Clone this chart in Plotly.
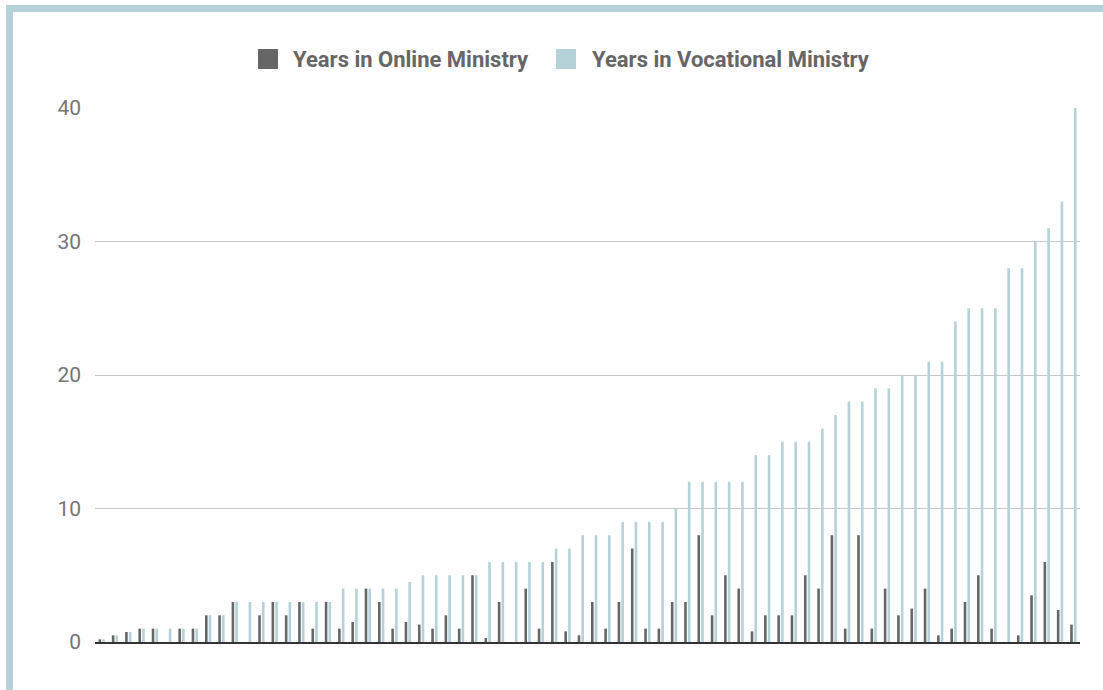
import plotly.graph_objects as go

# ---- data ----
respondents = [f"R{i}" for i in range(1, 75)]
online_years = [0.2, 0.5, 0.75, 1, 1, 0, 1, 1, 2, 2,
                3, 0, 2, 3, 2, 3, 1, 3, 1, 1.5,
                4, 3, 1, 1.5, 1.3, 1, 2, 1, 5, 0.3,
                3, 0, 4, 1, 6, 0.8, 0.5, 3, 1, 3,
                7, 1, 1, 3, 3, 8, 2, 5, 4, 0.8,
                2, 2, 2, 5, 4, 8, 1, 8, 1, 4,
                2, 2.5, 4, 0.5, 1, 3, 5, 1, 0, 0.5,
                3.5, 6, 2.4, 1.3]
vocational_years = [0.2, 0.5, 0.75, 1, 1, 1, 1, 1, 2, 2,
                    3, 3, 3, 3, 3, 3, 3, 3, 4, 4,
                    4, 4, 4, 4.5, 5, 5, 5, 5, 5, 6,
                    6, 6, 6, 6, 7, 7, 8, 8, 8, 9,
                    9, 9, 9, 10, 12, 12, 12, 12, 12, 14,
                    14, 15, 15, 15, 16, 17, 18, 18, 19, 19,
                    20, 20, 21, 21, 24, 25, 25, 25, 28, 28,
                    30, 31, 33, 40]
series_names = ["Years in Online Ministry", "Years in Vocational Ministry"]
y_ticks = [0, 10, 20, 30, 40]

# ---- styling ----
W, H = 1103, 690
L, R, T, B = 95, 23, 108, 48
DARK = "#666666"
LIGHT = "#b4d2d7"
FRAME = "#b4d2d7"
plot_w = W - L - R
plot_h = H - T - B


def xp(px):
    return (px - L) / plot_w


def yp(py):
    return (H - B - py) / plot_h


fig = go.Figure()
fig.add_trace(go.Bar(x=respondents, y=online_years, name=series_names[0],
                     marker=dict(color=DARK, line=dict(width=0)),
                     showlegend=False))
fig.add_trace(go.Bar(x=respondents, y=vocational_years, name=series_names[1],
                     marker=dict(color=LIGHT, line=dict(width=0)),
                     showlegend=False))

shapes = [
    # page frame (top & left)
    dict(type="rect", xref="paper", yref="paper", x0=xp(7), x1=xp(W + 5),
         y0=yp(12), y1=yp(5), fillcolor=FRAME, line=dict(width=0), layer="above"),
    dict(type="rect", xref="paper", yref="paper", x0=xp(6), x1=xp(13),
         y0=yp(H + 5), y1=yp(5), fillcolor=FRAME, line=dict(width=0), layer="above"),
    # legend swatches
    dict(type="rect", xref="paper", yref="paper", x0=xp(258), x1=xp(278),
         y0=yp(69), y1=yp(49), fillcolor=DARK, line=dict(width=0)),
    dict(type="rect", xref="paper", yref="paper", x0=xp(556), x1=xp(576),
         y0=yp(69), y1=yp(49), fillcolor=LIGHT, line=dict(width=0)),
]
legend_font = dict(family="Roboto", size=22, color="#666666", weight="bold")
annotations = [
    dict(text=series_names[0], xref="paper", yref="paper", x=xp(291), y=yp(59),
         xanchor="left", yanchor="middle", showarrow=False, font=legend_font),
    dict(text=series_names[1], xref="paper", yref="paper", x=xp(590), y=yp(59),
         xanchor="left", yanchor="middle", showarrow=False, font=legend_font),
]

fig.update_layout(
    width=W, height=H,
    margin=dict(l=L, r=R, t=T, b=B, pad=0),
    paper_bgcolor="white", plot_bgcolor="white",
    barmode="group", bargap=0.44, bargroupgap=0.3,
    shapes=shapes, annotations=annotations,
    font=dict(family="Roboto", color="#777777"),
    xaxis=dict(showticklabels=False, showgrid=False, zeroline=False,
               showline=True, linecolor="#333333", linewidth=2, ticks=""),
    yaxis=dict(range=[0, 40], tickvals=y_ticks, showgrid=True,
               gridcolor="#c8c8c8", gridwidth=1, zeroline=False,
               showline=False, ticks="", ticklabelstandoff=13,
               tickfont=dict(family="Roboto", size=21, color="#757575")),
)

fig.write_html("out.html", config={"displayModeBar": False},
               post_script="document.body.style.margin='0px';")
